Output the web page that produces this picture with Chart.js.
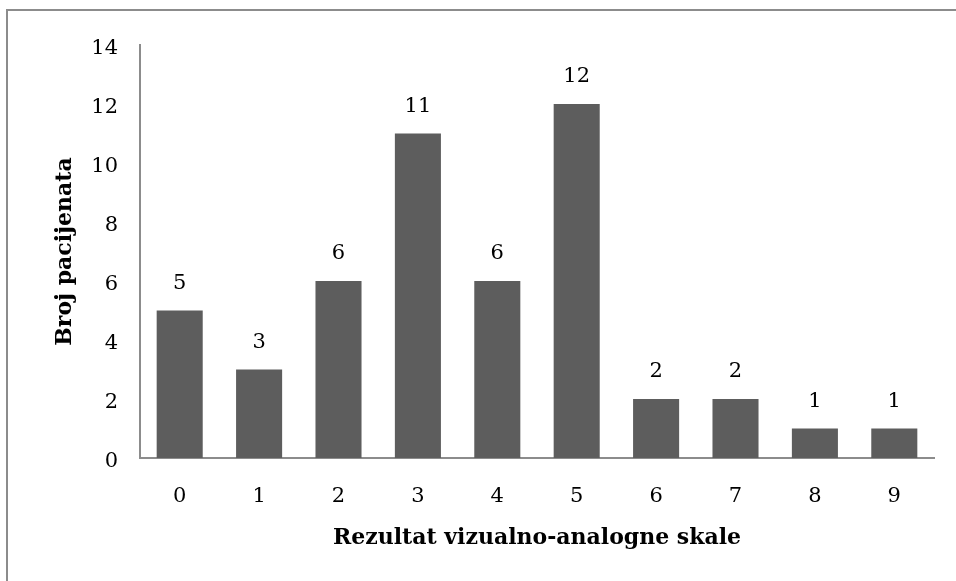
<!DOCTYPE html>
<html>
<head>
<meta charset="utf-8">
<script src="https://cdn.jsdelivr.net/npm/chart.js@4.4.1/dist/chart.umd.min.js"></script>
<style>
  html, body { margin: 0; padding: 0; background: #fff; }
  #wrap { position: relative; width: 956px; height: 581px; overflow: hidden; }
  #frame {
    position: absolute; left: 6px; top: 9px; width: 1000px; height: 600px;
    border-top: 2px solid #8c8c8c; border-left: 2px solid #8c8c8c;
    pointer-events: none;
  }
  canvas { position: absolute; left: 0; top: 0; }
</style>
</head>
<body>
<div id="wrap">
  <canvas id="chart" width="956" height="581"></canvas>
  <div id="frame"></div>
</div>
<script>
const categories = ["0", "1", "2", "3", "4", "5", "6", "7", "8", "9"];
const patients = [5, 3, 6, 11, 6, 12, 2, 2, 1, 1];
const yTitle = "Broj pacijenata";
const xTitle = "Rezultat vizualno-analogne skale";

const serif = "'DejaVu Serif', 'Liberation Serif', serif";

// value labels above each bar
const valueLabels = {
  id: "valueLabels",
  afterDatasetsDraw(chart) {
    const ctx = chart.ctx;
    const meta = chart.getDatasetMeta(0);
    ctx.save();
    ctx.font = "21px " + serif;
    ctx.fillStyle = "#000";
    ctx.textAlign = "center";
    ctx.textBaseline = "middle";
    meta.data.forEach((bar, i) => {
      ctx.fillText(String(patients[i]), bar.x, bar.y - 27);
    });
    ctx.restore();
  },
};

const ctx = document.getElementById("chart").getContext("2d");
new Chart(ctx, {
  type: "bar",
  data: {
    labels: categories,
    datasets: [
      {
        data: patients,
        backgroundColor: "#5d5d5d",
        borderWidth: 0,
        categoryPercentage: 1,
        barPercentage: 0.58,
      },
    ],
  },
  options: {
    responsive: false,
    animation: false,
    layout: { padding: { left: 0, top: 45, right: 22, bottom: 0 } },
    plugins: {
      legend: { display: false },
      tooltip: { enabled: false },
    },
    scales: {
      x: {
        grid: { display: false, drawTicks: false },
        border: { color: "#8c8c8c", width: 2 },
        ticks: { color: "#000", padding: 26, font: { family: serif, size: 21 } },
        title: {
          display: true,
          text: xTitle,
          color: "#000",
          font: { family: serif, size: 22, weight: "bold" },
          padding: { top: 0, bottom: 30 },
        },
        afterFit: (scale) => { scale.height = 123; },
      },
      y: {
        min: 0,
        max: 14,
        grid: { display: false, drawTicks: false },
        border: { color: "#8c8c8c", width: 2 },
        ticks: {
          stepSize: 2,
          color: "#000",
          padding: 22,
          labelOffset: 4,
          font: { family: serif, size: 21 },
        },
        title: {
          display: true,
          text: yTitle,
          color: "#000",
          font: { family: serif, size: 22, weight: "bold" },
          padding: { top: 52, bottom: 0 },
        },
        afterFit: (scale) => { scale.width = 140; },
      },
    },
  },
  plugins: [valueLabels],
});
</script>
</body>
</html>
